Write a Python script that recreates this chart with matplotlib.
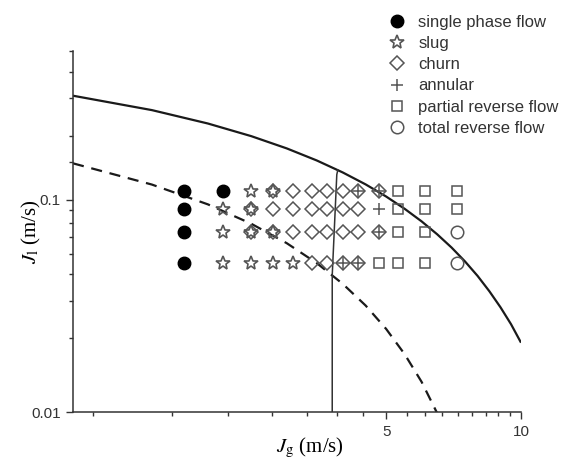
import matplotlib
matplotlib.use("Agg")
import matplotlib.pyplot as plt
from matplotlib.lines import Line2D

plt.rcParams["mathtext.fontset"] = "stix"

# ---------------- data ----------------
# flow-regime observations, Jg (m/s) and Jl (m/s)
single_jg = [1.77, 2.16, 1.77, 1.77, 1.77]
single_jl = [0.11, 0.11, 0.09, 0.07, 0.05]

slug_jg = [2.50, 2.80, 2.16, 2.50, 2.16, 2.50, 2.80, 2.16, 2.50, 2.80, 3.10]
slug_jl = [0.11, 0.11, 0.09, 0.09, 0.07, 0.07, 0.07, 0.05, 0.05, 0.05, 0.05]

churn_jg = [2.80, 3.10, 3.42, 3.69, 4.01, 4.33, 4.82,
            2.50, 2.80, 3.10, 3.42, 3.69, 4.01, 4.33,
            2.50, 2.80, 3.10, 3.42, 3.69, 4.01, 4.33, 4.82,
            3.42, 3.69, 4.01, 4.33]
churn_jl = [0.11] * 7 + [0.09] * 7 + [0.07] * 8 + [0.05] * 4

annular_jg = [4.33, 4.82, 4.82, 4.82, 4.01, 4.33]
annular_jl = [0.11, 0.11, 0.09, 0.07, 0.05, 0.05]

partial_jg = [5.31, 6.11, 7.20, 5.31, 6.11, 7.20, 5.31, 6.11, 4.82, 5.31, 6.11]
partial_jl = [0.11, 0.11, 0.11, 0.09, 0.09, 0.09, 0.07, 0.07, 0.05, 0.05, 0.05]

total_jg = [7.20, 7.20]
total_jl = [0.07, 0.05]

# upper (solid) boundary
upper_jg = [1.0, 1.5, 2.0, 2.5, 3.0, 3.5, 4.0, 4.5, 5.0, 5.5, 6.0, 6.5, 7.0,
            7.5, 8.0, 8.5, 9.0, 9.5, 10.0]
upper_jl = [0.308, 0.2635, 0.2279, 0.1987, 0.1740, 0.1527, 0.1341, 0.1178,
            0.1033, 0.0904, 0.0789, 0.0686, 0.0594, 0.0511, 0.0437, 0.0370,
            0.0311, 0.0259, 0.0212]

# lower (dashed) boundary
lower_jg = [1.0, 1.5, 2.0, 2.5, 3.0, 3.5, 4.0, 4.5, 5.0, 5.5, 6.0, 6.5]
lower_jl = [0.148, 0.1176, 0.0949, 0.0769, 0.0623, 0.0502, 0.0401, 0.0317,
            0.0246, 0.0187, 0.01386, 0.00987]

# near-vertical transition line
trans_jg = [3.79, 3.79, 3.88, 3.90]
trans_jl = [0.01, 0.044, 0.131, 0.1376]

labels = ["single phase flow", "slug", "churn", "annular",
          "partial reverse flow", "total reverse flow"]

x_ticklabels = ["5", "10"]
y_ticklabels = ["0.01", "0.1"]

# ---------------- figure ----------------
W, H = 565, 462
fig = plt.figure(figsize=(W / 100, H / 100), dpi=100)
L, R, T, B = 73, 521, 51, 412
ax = fig.add_axes([L / W, 1 - B / H, (R - L) / W, (B - T) / H])
ax.set_xscale("log")
ax.set_yscale("log")
ax.set_xlim(1.0, 10.0)
ax.set_ylim(0.01, 0.5)

line_col = "#1a1a1a"
mk_col = "#555555"

ax.plot(upper_jg, upper_jl, color=line_col, lw=1.6, solid_capstyle="butt")
ax.plot(lower_jg, lower_jl, color=line_col, lw=1.6, dashes=(5, 3.5))
ax.plot(trans_jg, trans_jl, color="#333333", lw=1.1)

st_single = dict(marker="o", ls="none", ms=9, mfc="black", mec="black")
st_slug = dict(marker="*", ls="none", ms=10, mfc="none", mec=mk_col, mew=1.2)
st_churn = dict(marker="D", ls="none", ms=7.5, mfc="none", mec=mk_col, mew=1.1)
st_ann = dict(marker="+", ls="none", ms=9, mec=mk_col, mew=1.1)
st_part = dict(marker="s", ls="none", ms=7.5, mfc="none", mec=mk_col, mew=1.1)
st_tot = dict(marker="o", ls="none", ms=9, mfc="none", mec=mk_col, mew=1.1)

ax.plot(single_jg, single_jl, **st_single)
ax.plot(slug_jg, slug_jl, **st_slug)
ax.plot(churn_jg, churn_jl, **st_churn)
ax.plot(annular_jg, annular_jl, **st_ann)
ax.plot(partial_jg, partial_jl, **st_part)
ax.plot(total_jg, total_jl, **st_tot)

# axes styling
for s in ["top", "right"]:
    ax.spines[s].set_visible(False)
for s in ["left", "bottom"]:
    ax.spines[s].set_color("#333333")
    ax.spines[s].set_linewidth(1.1)

ax.set_xticks([5, 10])
ax.set_xticklabels(x_ticklabels)
ax.set_xticks([k * 5 / 9 for k in range(2, 18) if k != 9], minor=True)
ax.set_yticks([0.01, 0.1])
ax.set_yticklabels(y_ticklabels)
ax.set_yticks([0.0222, 0.0333, 0.0444, 0.0556, 0.0667, 0.0778, 0.0889,
               0.15, 0.2, 0.3, 0.4, 0.5], minor=True)
ax.xaxis.set_minor_formatter(plt.NullFormatter())
ax.yaxis.set_minor_formatter(plt.NullFormatter())
ax.tick_params(which="major", direction="out", length=5, width=1.0,
               color="#333333", labelsize=11, labelcolor="#333333", pad=4)
ax.tick_params(which="minor", direction="out", length=3, width=1.0,
               color="#333333")
for lab in ax.get_xticklabels() + ax.get_yticklabels():
    lab.set_fontfamily("Liberation Sans")

ax.set_xlabel(r"$J_{\mathrm{g}}$ (m/s)", fontsize=15, family="Liberation Serif",
              va="center")
ax.xaxis.set_label_coords((310 - L) / (R - L), (B - 448) / (B - T))
ax.set_ylabel(r"$J_{\mathrm{l}}$ (m/s)", fontsize=15, family="Liberation Serif",
              va="center")
ax.yaxis.set_label_coords((31 - L) / (R - L), 0.5)

handles = [Line2D([], [], **st_single), Line2D([], [], **st_slug),
           Line2D([], [], **st_churn), Line2D([], [], **st_ann),
           Line2D([], [], **st_part), Line2D([], [], **st_tot)]
leg = fig.legend(handles, labels, loc="upper left",
                 bbox_to_anchor=(389 / W, 1 - 15 / H), frameon=False,
                 handlelength=1.0, handletextpad=0.75, labelspacing=0.37,
                 borderpad=0, borderaxespad=0,
                 prop={"family": "Liberation Sans", "size": 12})
for t in leg.get_texts():
    t.set_color("#333333")

fig.savefig("out.png", dpi=100)
